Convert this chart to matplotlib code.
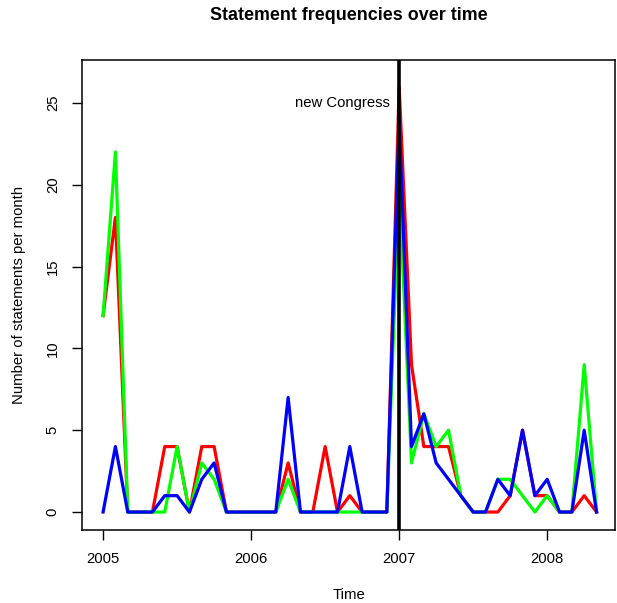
import numpy as np
import matplotlib
matplotlib.use("Agg")
import matplotlib.pyplot as plt

plt.rcParams["font.family"] = ["Liberation Sans", "DejaVu Sans"]

# monthly counts, Jan 2005 .. May 2008
start_year = 2005
red_counts = [12, 18, 0, 0, 0, 4, 4, 0, 4, 4, 0, 0,
              0, 0, 0, 3, 0, 0, 4, 0, 1, 0, 0, 0,
              26, 9, 4, 4, 4, 1, 0, 0, 0, 1, 5, 1, 1, 0, 0, 1, 0]
green_counts = [12, 22, 0, 0, 0, 0, 4, 0, 3, 2, 0, 0,
                0, 0, 0, 2, 0, 0, 0, 0, 0, 0, 0, 0,
                20, 3, 6, 4, 5, 1, 0, 0, 2, 2, 1, 0, 1, 0, 0, 9, 0]
blue_counts = [0, 4, 0, 0, 0, 1, 1, 0, 2, 3, 0, 0,
               0, 0, 0, 7, 0, 0, 0, 0, 4, 0, 0, 0,
               24, 4, 6, 3, 2, 1, 0, 0, 2, 1, 5, 1, 2, 0, 0, 5, 0]
year_ticks = [2005, 2006, 2007, 2008]
congress_date = 2007

months = start_year + np.arange(len(red_counts)) / 12

fig = plt.figure(figsize=(6.17, 6.03), dpi=100)
ax = fig.add_axes([0.133, 0.121, 0.864, 0.779])

ax.plot(months, red_counts, color="#ff0000", lw=2.3)
ax.plot(months, green_counts, color="#00ff00", lw=2.3)
ax.plot(months, blue_counts, color="#0000ff", lw=2.3)
ax.axvline(congress_date, color="black", lw=2.6)
ax.annotate("new Congress", xy=(congress_date, 25), xytext=(-7, 0),
            textcoords="offset points", ha="right", va="center", fontsize=10.7)

ax.set_xlim(2004.858, 2008.459)
ax.set_ylim(-1.1, 27.6)
ax.set_xticks(year_ticks)
ax.set_yticks([0, 5, 10, 15, 20, 25])
ax.tick_params(labelsize=10.7, length=7, width=1)
ax.tick_params(axis="x", pad=9)
ax.tick_params(axis="y", pad=9)
plt.setp(ax.get_yticklabels(), rotation=90, va="center")
for s in ax.spines.values():
    s.set_linewidth(1.1)

ax.set_xlabel("Time", fontsize=10.7, labelpad=16)
ax.set_ylabel("Number of statements per month", fontsize=10.7, labelpad=14)
fig.text(0.566, 0.975, "Statement frequencies over time", ha="center",
         va="center", fontsize=12.9, fontweight="bold")

fig.savefig("out.png", dpi=100)
